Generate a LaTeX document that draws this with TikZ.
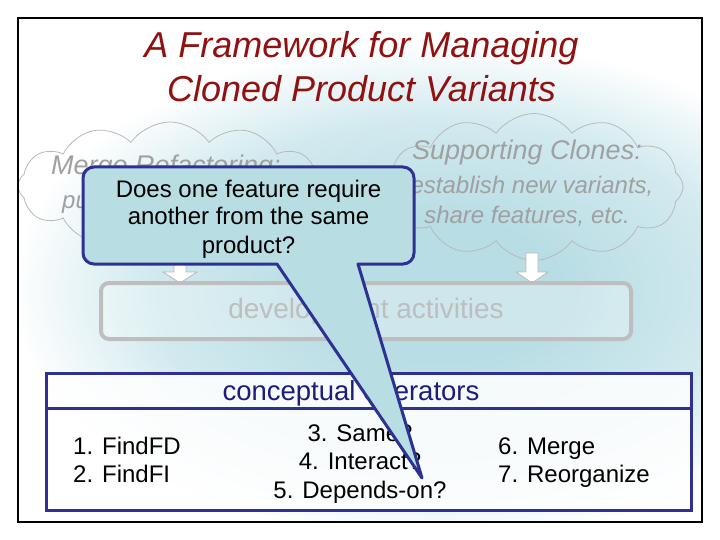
\documentclass[tikz,border=0pt]{standalone}
\usepackage{fontspec}
\setmainfont{Liberation Sans}
\usetikzlibrary{shapes.symbols}
\definecolor{titlered}{RGB}{145,16,16}
\definecolor{glow}{RGB}{184,221,228}
\definecolor{glowmid}{RGB}{210,234,239}
\definecolor{calloutfill}{RGB}{184,222,228}
\definecolor{navy}{RGB}{46,49,146}
\definecolor{opnavy}{RGB}{28,28,122}
\definecolor{cloudgray}{RGB}{160,160,160}
\definecolor{cloudline}{RGB}{185,185,185}
\definecolor{devgray}{RGB}{190,190,190}
\pgfdeclareradialshading{bgglow}{\pgfpoint{0bp}{0bp}}{color(0bp)=(glow); color(7bp)=(glow); color(17bp)=(glowmid); color(25bp)=(white); color(50bp)=(white)}
\newcommand{\fsz}[1]{\fontsize{#1}{#1}\selectfont}
\begin{document}
\begin{tikzpicture}[x=1pt,y=-1pt,
  titletxt/.style={anchor=base, text=titlered, font=\fsz{36}\itshape, inner sep=0},
  cloudbox/.style={cloud, cloud puffs=12, cloud puff arc=110, draw=cloudline, line width=0.8pt, inner sep=0},
  cloudtxt/.style={text=cloudgray, font=\fsz{24}\itshape, inner sep=0, text depth=0pt},
  blockarrow/.style={draw=cloudline, fill=white, line width=0.8pt},
  devbox/.style={draw=devgray, line width=4pt, rounded corners=8pt, fill=white, fill opacity=0.3},
  opbox/.style={draw=navy, line width=3pt, fill=white, fill opacity=0.85},
  optxt/.style={font=\fsz{24}, inner sep=0},
  callout/.style={draw=navy, line width=3pt, fill=calloutfill, line join=round},
  callouttxt/.style={anchor=base, font=\fsz{24}, inner sep=0}]
\useasboundingbox (0,0) rectangle (720,540);
\fill[white] (0,0) rectangle (720,540);
\begin{scope}
  \clip (18,18) rectangle (702,522);
  \shade[shading=bgglow] (10,40) rectangle (870,540);
\end{scope}
% title
\node[titletxt] (t1) at (361.5,58) {A Framework for Managing};
\node[titletxt] (t2) at (361.5,102) {Cloned Product Variants};
% clouds
\node[cloudbox, minimum width=304pt, minimum height=128pt] (lcloud) at (170,186) {};
\node[cloudbox, minimum width=298pt, minimum height=147pt] (rcloud) at (534,187) {};
\node[cloudtxt, anchor=base, font=\fsz{27}\itshape] (lc1) at (166,175) {Merge Refactoring:};
\node[cloudtxt, anchor=base west] (lc2) at (62,209) {put};
\node[cloudtxt, anchor=base, font=\fsz{27}\itshape] (rc1) at (527,160) {Supporting Clones:};
\node[cloudtxt, anchor=base] (rc2) at (532,194) {establish new variants,};
\node[cloudtxt, anchor=base] (rc3) at (527,223) {share features, etc.};
% block arrows
\draw[blockarrow] (174,250) -- (186,250) -- (186,272) -- (197,272) -- (180,283) -- (163,272) -- (174,272) -- cycle;
\draw[blockarrow] (526,253) -- (538,253) -- (538,272) -- (548,272) -- (532,283) -- (516,272) -- (526,272) -- cycle;
% development activities
\node[devbox, minimum width=530pt, minimum height=56pt] (dev) at (366,311) {};
\node[anchor=base, text=devgray, font=\fsz{28}, inner sep=0] (devtxt) at (366,318) {development activities};
% operators
\node[opbox, minimum width=645pt, minimum height=137pt] (ops) at (368.5,441.5) {};
\coordinate (hl) at (46,408);
\coordinate (hr) at (691,408);
\draw[navy, line width=3pt] (hl) -- (hr);
\node[optxt, anchor=base, text=opnavy, font=\fsz{27.5}] (ophead) at (351,400) {conceptual operators};
\node[optxt, anchor=base west] (op1) at (73,454) {1. FindFD};
\node[optxt, anchor=base west] (op2) at (73,482) {2. FindFI};
\node[optxt, anchor=base] (op3) at (360,441) {3. Same?};
\node[optxt, anchor=base] (op4) at (360,469.5) {4. Interact?};
\node[optxt, anchor=base] (op5) at (360,498) {5. Depends-on?};
\node[optxt, anchor=base west] (op6) at (498,454) {6. Merge};
\node[optxt, anchor=base west] (op7) at (498,482) {7. Reorganize};
% callout
\coordinate (tip) at (422,478);
\coordinate (pl) at (277,264);
\coordinate (pr) at (358,264);
\draw[callout] (pl) [rounded corners=11pt] -- (83,264) -- (83,167) -- (414,167) -- (414,264) [sharp corners] -- (pr) -- (tip) -- cycle;
\node[callouttxt] (q1) at (248.5,197) {Does one feature require};
\node[callouttxt] (q2) at (248.5,225) {another from the same};
\node[callouttxt] (q3) at (248.5,253) {product?};
% frame
\draw[line width=1.5pt] (18,18) rectangle (702,522);
\end{tikzpicture}
\end{document}
